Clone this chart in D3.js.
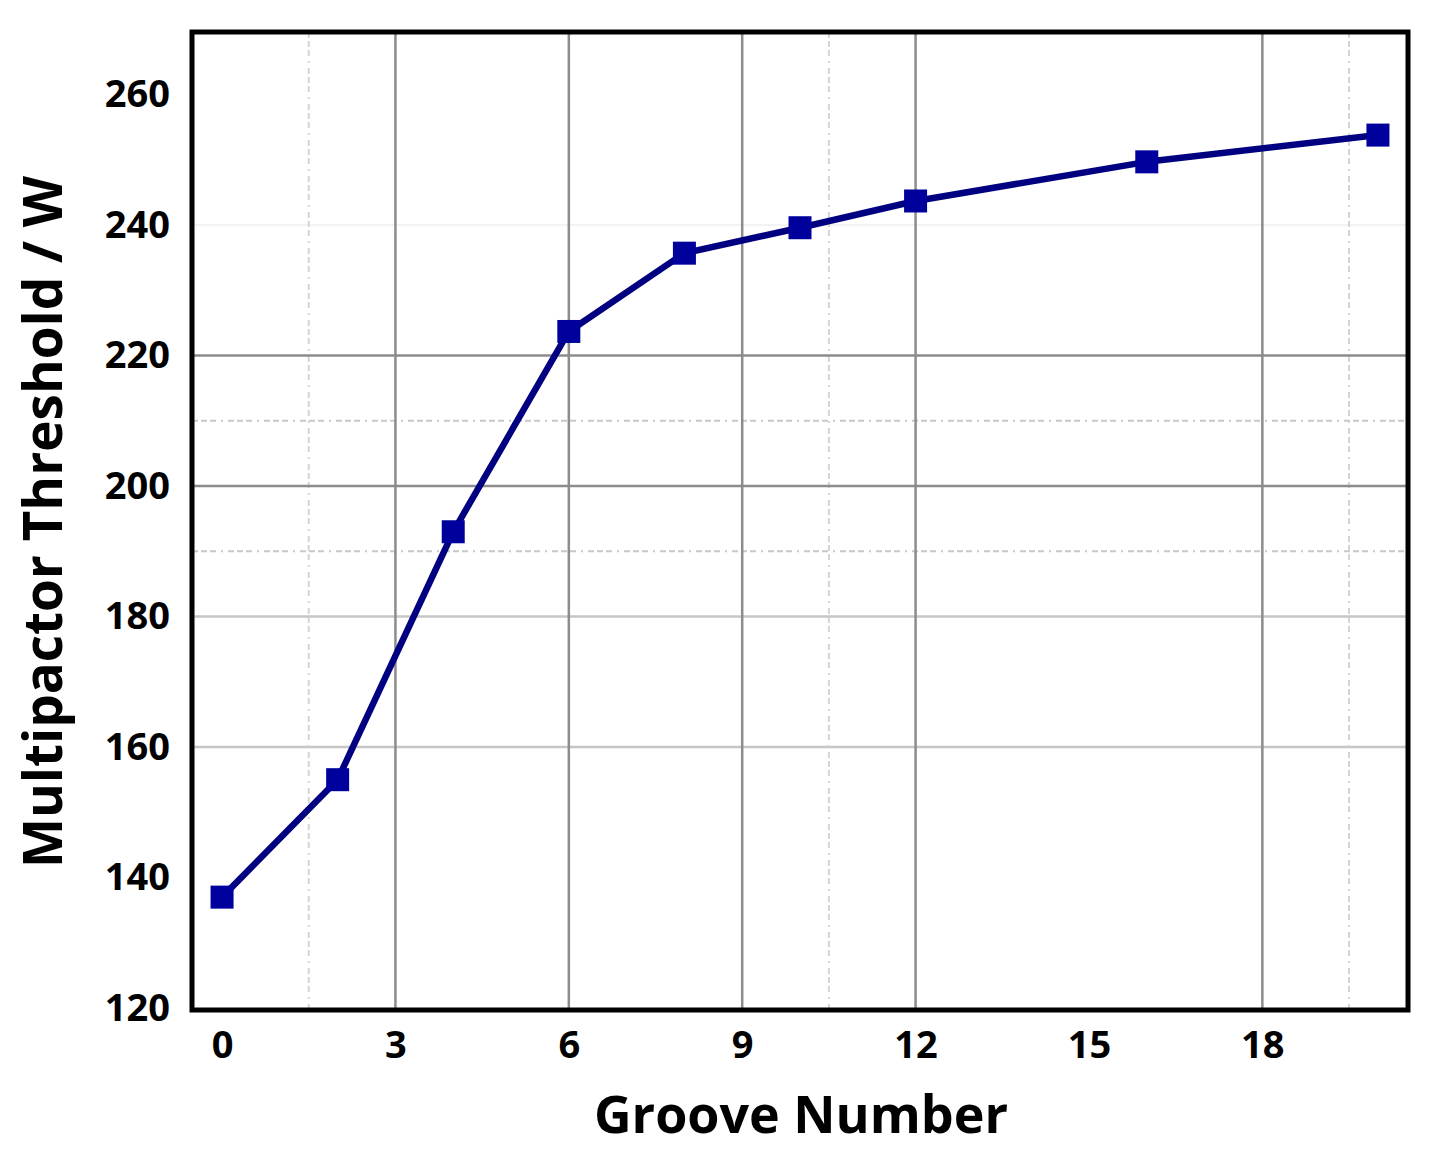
<!DOCTYPE html>
<html>
<head>
<meta charset="utf-8">
<script src="https://cdn.jsdelivr.net/npm/d3@7"></script>
<style>
  body { margin: 0; background: #fff; }
  text { font-family: "Open Sans", "DejaVu Sans", sans-serif; fill: #000; }
</style>
</head>
<body>
<script>
// groove number vs multipactor threshold
const grooves = [0, 2, 4, 6, 8, 10, 12, 16, 20];
const threshold = [137, 155, 193, 223.7, 235.7, 239.6, 243.7, 249.7, 253.8];

const xTicks = [0, 3, 6, 9, 12, 15, 18];
const yTicks = [120, 140, 160, 180, 200, 220, 240, 260];
// grid lines that show in the picture
const xGridMajor = [3, 6, 9, 12, 18];
const xGridMinor = [1.5, 10.5, 19.5];
const yGridDark = [200, 220];
const yGridLight = [160, 180];
const yGridFaint = [240];
const yGridMinor = [190, 210];

const W = 1438, H = 1157;
const pLeft = 192, pRight = 1408, pTop = 32, pBottom = 1010;

const svg = d3.select('body').append('svg')
    .attr('width', W)
    .attr('height', H);

const x = d3.scaleLinear().domain([-0.52, 20.52]).range([pLeft, pRight]);
const y = d3.scaleLinear().domain([119.7, 269.6]).range([pBottom, pTop]);

const grid = svg.append('g');

function vLines(vals, color, width, dash) {
  grid.selectAll(null).data(vals).enter().append('line')
      .attr('x1', d => x(d)).attr('x2', d => x(d))
      .attr('y1', pTop).attr('y2', pBottom)
      .attr('stroke', color).attr('stroke-width', width)
      .attr('stroke-dasharray', dash);
}
function hLines(vals, color, width, dash) {
  grid.selectAll(null).data(vals).enter().append('line')
      .attr('y1', d => y(d)).attr('y2', d => y(d))
      .attr('x1', pLeft).attr('x2', pRight)
      .attr('stroke', color).attr('stroke-width', width)
      .attr('stroke-dasharray', dash);
}

const dashPat = '6,3,6,3,6,5,2,5';
hLines(yGridFaint, '#f3f3f3', 2, null);
hLines(yGridLight, '#c6c6c6', 2.5, null);
hLines(yGridMinor, '#c8c8c8', 2, dashPat);
vLines(xGridMinor, '#d4d4d4', 2, dashPat);
hLines(yGridDark, '#8c8c8c', 2.5, null);
vLines(xGridMajor, '#8c8c8c', 2.5, null);

// axes: only labels, the frame is drawn below
const xAxis = d3.axisBottom(x).tickValues(xTicks).tickSize(0).tickPadding(21);
const yAxis = d3.axisLeft(y).tickValues(yTicks).tickSize(0).tickPadding(22);

svg.append('g')
    .attr('transform', `translate(0,${pBottom})`)
    .call(xAxis)
    .call(g => g.select('.domain').remove())
    .selectAll('text')
    .style('font-size', '38px')
    .style('font-weight', 700)
    .style('font-family', '"Open Sans", sans-serif');

svg.append('g')
    .attr('transform', `translate(${pLeft},0)`)
    .call(yAxis)
    .call(g => g.select('.domain').remove())
    .selectAll('text')
    .style('font-size', '38px')
    .style('font-weight', 700)
    .style('font-family', '"Open Sans", sans-serif');

// series
const line = d3.line()
    .x((d, i) => x(grooves[i]))
    .y(d => y(d));

svg.append('path')
    .datum(threshold)
    .attr('fill', 'none')
    .attr('stroke', '#000080')
    .attr('stroke-width', 6.5)
    .attr('stroke-linejoin', 'round')
    .attr('d', line);

const ms = 23;
svg.selectAll('rect.marker')
    .data(threshold)
    .enter()
  .append('rect')
    .attr('class', 'marker')
    .attr('fill', '#00009c')
    .attr('width', ms)
    .attr('height', ms)
    .attr('x', (d, i) => x(grooves[i]) - ms / 2)
    .attr('y', d => y(d) - ms / 2);

// frame
svg.append('rect')
    .attr('x', pLeft).attr('y', pTop)
    .attr('width', pRight - pLeft).attr('height', pBottom - pTop)
    .attr('fill', 'none')
    .attr('stroke', '#000')
    .attr('stroke-width', 5);

// axis titles
svg.append('text')
    .attr('x', 801)
    .attr('y', 1133)
    .attr('text-anchor', 'middle')
    .style('font-size', '52px')
    .style('font-weight', 700)
    .text('Groove Number');

svg.append('text')
    .attr('transform', 'translate(62,522) rotate(-90)')
    .attr('text-anchor', 'middle')
    .style('font-size', '53px')
    .style('font-weight', 700)
    .text('Multipactor Threshold / W');
</script>
</body>
</html>
